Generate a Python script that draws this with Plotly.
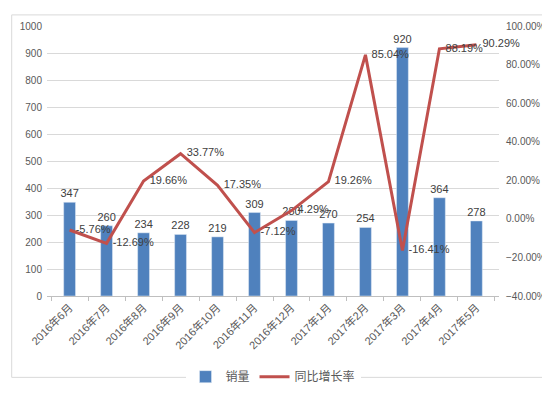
import plotly.graph_objects as go

categories = ["2016年6月", "2016年7月", "2016年8月", "2016年9月", "2016年10月", "2016年11月",
              "2016年12月", "2017年1月", "2017年2月", "2017年3月", "2017年4月", "2017年5月"]
sales = [347, 260, 234, 228, 219, 309, 280, 270, 254, 920, 364, 278]
growth = [-5.76, -12.69, 19.66, 33.77, 17.35, -7.12, 4.29, 19.26, 85.04, -16.41, 88.19, 90.29]

FONT = "Liberation Sans, Noto Sans CJK SC, sans-serif"
GRAY = "#595959"

fig = go.Figure()
fig.add_trace(go.Bar(
    x=categories, y=sales, name="销量",
    marker=dict(color="#4F81BD"),
    text=[str(v) for v in sales], textposition="outside",
    textfont=dict(size=11, color="#404040", family=FONT),
    constraintext="none",
    cliponaxis=False,
))
fig.add_trace(go.Scatter(
    x=categories, y=growth, name="同比增长率", yaxis="y2",
    mode="lines+text",
    line=dict(color="#C0504D", width=3),
    text=["  " + f"{v:.2f}%" for v in growth], textposition="middle right",
    textfont=dict(size=11, color="#404040", family=FONT),
    cliponaxis=False,
))

fig.update_layout(
    width=550, height=395,
    margin=dict(l=37, r=52, t=13, b=90),
    paper_bgcolor="white", plot_bgcolor="white",
    font=dict(family=FONT, size=11, color=GRAY),
    bargap=0.68,
    showlegend=True,
    legend=dict(orientation="h", x=0.5, xanchor="center", y=-0.245, yanchor="top",
                font=dict(size=12, color=GRAY, family="Noto Sans CJK SC"), itemwidth=30),
    xaxis=dict(
        tickangle=-45, showgrid=False, showline=True, linecolor="#BFBFBF",
        ticks="outside", tickson="boundaries", ticklen=4, tickcolor="#BFBFBF",
        tickfont=dict(size=11, color=GRAY),
    ),
    yaxis=dict(
        range=[0, 1000], dtick=100, showgrid=True, gridcolor="#D9D9D9",
        zeroline=False, tickfont=dict(size=10, color=GRAY), ticklabelstandoff=4,
    ),
    yaxis2=dict(
        range=[-40, 100], dtick=20, overlaying="y", side="right",
        showgrid=False, zeroline=False, tickformat=".2f", ticksuffix="%",
        tickfont=dict(size=10, color=GRAY), ticklabelstandoff=6,
    ),
    shapes=[dict(type="rect", xref="paper", yref="paper", x0=-36/461, x1=1+50/461,
                 y0=-88/292, y1=1+12/292, line=dict(color="#D9D9D9", width=1))],
)

fig.write_html("out.html")
